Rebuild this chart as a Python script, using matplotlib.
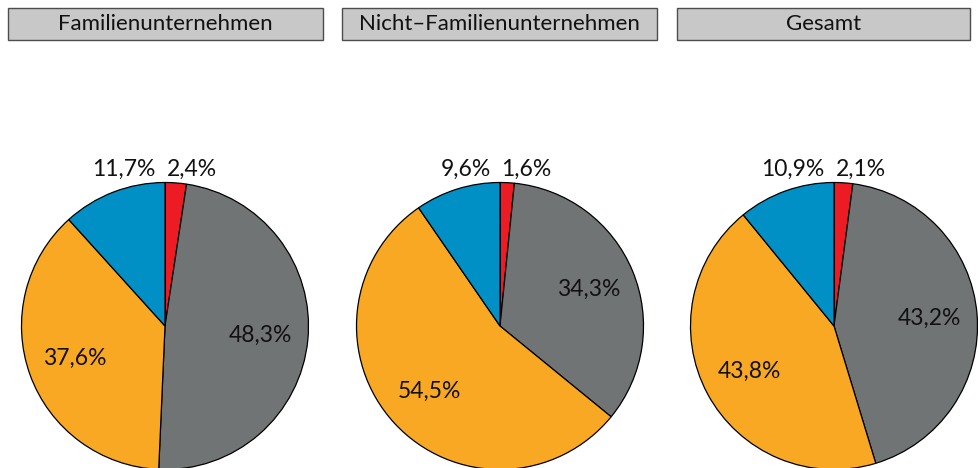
import matplotlib
matplotlib.use("Agg")
import matplotlib.pyplot as plt
from matplotlib.patches import Rectangle

plt.rcParams['font.family'] = ['Lato', 'DejaVu Sans']

titles = ["Familienunternehmen", "Nicht\u2013Familienunternehmen", "Gesamt"]
# slice order: red, gray, orange, blue (clockwise from 12 o'clock)
fam = [2.4, 48.3, 37.6, 11.7]
nicht_fam = [1.6, 34.3, 54.5, 9.6]
gesamt = [2.1, 43.2, 43.8, 10.9]
series = [fam, nicht_fam, gesamt]
colors = ["#ed1c24", "#717475", "#f9a823", "#0090c5"]

W, H = 979, 468
fig = plt.figure(figsize=(W / 100, H / 100), dpi=100)

centers_x = [165, 500, 834]
center_y = 326
r = 143.5
box_x = [(8, 323), (342, 657), (677, 970)]

for i, vals in enumerate(series):
    cx = centers_x[i]
    ax = fig.add_axes([(cx - r) / W, (H - center_y - r) / H, 2 * r / W, 2 * r / H])
    wedges, texts, autotexts = ax.pie(
        vals, colors=colors, startangle=90, counterclock=False,
        autopct=lambda p: f"{p:.1f}".replace(".", ",") + "%",
        pctdistance=0.67,
        wedgeprops=dict(edgecolor="black", linewidth=0.9),
        textprops=dict(fontsize=16.5, color="#111111"),
    )
    ax.set_xlim(-1, 1)
    ax.set_ylim(-1, 1)
    ax.set_aspect("equal")
    # small slices get their labels above the pie
    autotexts[0].set_position((0.01, 1.095))
    autotexts[0].set_ha("left")
    autotexts[3].set_position((-0.065, 1.095))
    autotexts[3].set_ha("right")
    for t in (autotexts[0], autotexts[3]):
        t.set_va("center")
        t.set_clip_on(False)

    # header box
    x0, x1 = box_x[i]
    fig.patches.append(Rectangle((x0 / W, (H - 40) / H), (x1 - x0) / W, 32 / H,
                                 transform=fig.transFigure, facecolor="#c8c8c8",
                                 edgecolor="#4d4d4d", linewidth=1))
    fig.text((x0 + x1) / 2 / W, (H - 24) / H, titles[i], ha="center", va="center",
             fontsize=16, color="#111111")

fig.savefig("out.png", dpi=100)
